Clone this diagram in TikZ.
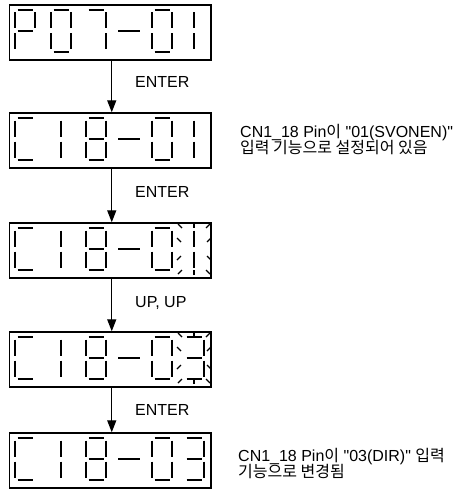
\documentclass[tikz,border=0pt]{standalone}
\usepackage{fontspec}
\setmainfont{Liberation Sans}[Ligatures=TeXOff]
\newfontfamily\kr{Noto Sans CJK KR}
\usetikzlibrary{arrows.meta}
\def\SA{(-7.5,-21) -- (7.5,-21)}
\def\SB{(10,-18.5) -- (10,-2.5)}
\def\SC{(10,2.5) -- (10,18.5)}
\def\SD{(-7.5,21) -- (7.5,21)}
\def\SE{(-10,2.5) -- (-10,18.5)}
\def\SF{(-10,-18.5) -- (-10,-2.5)}
\def\SG{(-7.5,0) -- (7.5,0)}
\def\SI{(0,-18.5) -- (0,-2.5)}
\def\SJ{(0,2.5) -- (0,18.5)}
\def\SM{(-11,0) -- (11,0)}
\newcommand\segs[3]{\begin{scope}[shift={(#1,#2)}]\foreach \s in {#3}{\edef\tmp{\noexpand\draw[segline] \csname S\s\endcsname;}\tmp}\end{scope}}
\newcommand\blinkrays[2]{\begin{scope}[shift={(#1,#2)}]
 \draw[ray] (-16,-25) -- (-12,-21); \draw[ray] (0,-26) -- (0,-21); \draw[ray] (16,-25) -- (12,-21);
 \draw[ray] (-17,-11) -- (-13,-7); \draw[ray] (-17,11) -- (-13,7);
 \draw[ray] (17,-11) -- (13,-7); \draw[ray] (17,11) -- (13,7);
 \draw[ray] (-16,25) -- (-12,21); \draw[ray] (0,26) -- (0,21); \draw[ray] (16,25) -- (12,21);
\end{scope}}
\begin{document}
\begin{tikzpicture}[x=1pt,y=-1pt,
  box/.style={draw,line width=1.4pt,minimum width=201.5pt,minimum height=55pt,inner sep=0pt},
  segline/.style={line width=2.6pt},
  ray/.style={line width=1.3pt},
  arr/.style={line width=1.3pt,-{Triangle[width=9pt,length=12pt]}},
  lbl/.style={font=\fontsize{16}{16}\selectfont,inner sep=0pt,anchor=base west}]
\useasboundingbox (0,0) rectangle (465,495);
\node[box] (b1) at (110.25,32.5) {};
\node[box] (b2) at (110.25,140.5) {};
\node[box] (b3) at (110.25,250.5) {};
\node[box] (b4) at (110.25,359.5) {};
\node[box] (b5) at (110.25,460.5) {};
% box 1: P07-01
\segs{25}{31}{A,B,F,G,E}
\segs{61}{31}{A,B,C,D,E,F}
\segs{96}{31}{A,B,C}
\segs{129}{31}{M}
\segs{162}{31}{A,B,C,D,E,F}
\segs{194}{31}{I,J}
% box 2: C18-01
\segs{25}{139}{A,F,E,D}
\segs{61}{139}{I,J}
\segs{96}{139}{A,B,C,D,E,F,G}
\segs{129}{139}{M}
\segs{162}{139}{A,B,C,D,E,F}
\segs{194}{139}{I,J}
% box 3: C18-01 blinking
\segs{25}{249}{A,F,E,D}
\segs{61}{249}{I,J}
\segs{96}{249}{A,B,C,D,E,F,G}
\segs{129}{249}{M}
\segs{162}{249}{A,B,C,D,E,F}
\segs{194}{249}{I,J}
\blinkrays{194}{249}
% box 4: C18-03 blinking
\segs{25}{358}{A,F,E,D}
\segs{61}{358}{I,J}
\segs{96}{358}{A,B,C,D,E,F,G}
\segs{129}{358}{M}
\segs{162}{358}{A,B,C,D,E,F}
\segs{194}{358}{A,B,C,D,G}
\blinkrays{194}{358}
% box 5: C18-03
\segs{25}{459}{A,F,E,D}
\segs{61}{459}{I,J}
\segs{96}{459}{A,B,C,D,E,F,G}
\segs{129}{459}{M}
\segs{162}{459}{A,B,C,D,E,F}
\segs{194}{459}{A,B,C,D,G}
% arrows
\draw[arr] ([xshift=1.5pt]b1.south) -- ([xshift=1.5pt]b2.north);
\draw[arr] ([xshift=1.5pt]b2.south) -- ([xshift=1.5pt]b3.north);
\draw[arr] ([xshift=1.5pt]b3.south) -- ([xshift=1.5pt]b4.north);
\draw[arr] ([xshift=1.5pt]b4.south) -- ([xshift=1.5pt]b5.north);
% labels
\node[lbl] (l1) at (135,88) {ENTER};
\node[lbl] (l2) at (135,197) {ENTER};
\node[lbl] (l3) at (135,307) {UP, UP};
\node[lbl] (l4) at (135,415) {ENTER};
\node[lbl] (n1a) at (240,137) {CN1\_18 Pin{\kr 이} "01(SVONEN)"};
\node[lbl] (n1b) at (240,153) {\kr 입력 기능으로 설정되어 있음};
\node[lbl] (n2a) at (238,461) {CN1\_18 Pin{\kr 이} "03(DIR)" {\kr 입력}};
\node[lbl] (n2b) at (238,477) {\kr 기능으로 변경됨};
\end{tikzpicture}
\end{document}
